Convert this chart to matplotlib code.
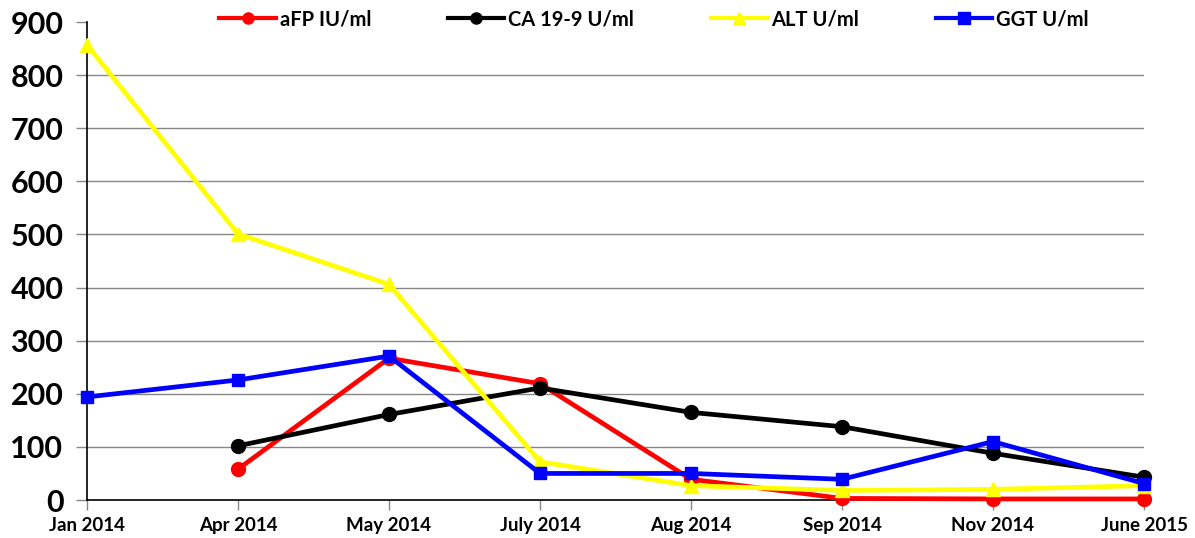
import matplotlib
matplotlib.use("Agg")
import matplotlib.pyplot as plt
import numpy as np

categories = ["Jan 2014", "Apr 2014", "May 2014", "July 2014", "Aug 2014",
              "Sep 2014", "Nov 2014", "June 2015"]
afp = [np.nan, 58, 267, 219, 39, 3, 2, 2]
ca199 = [np.nan, 102, 161, 211, 165, 138, 88, 43]
alt = [857, 501, 406, 72, 27, 18, 20, 27]
ggt = [194, 226, 271, 50, 50, 39, 110, 31]
yticks = [0, 100, 200, 300, 400, 500, 600, 700, 800, 900]

plt.rcParams['font.family'] = ['Lato', 'DejaVu Sans']
plt.rcParams['font.weight'] = 'bold'

fig = plt.figure(figsize=(11.95, 5.38), dpi=100)
ax = fig.add_axes([87/1195, 1-500/538, (1144-87)/1195, (500-22)/538])

x = np.arange(len(categories))
for yv in yticks[1:-1]:
    ax.axhline(yv, color='#868686', lw=1, zorder=0)

ax.plot(x, afp, color='#ff0000', lw=3.4, marker='o', ms=10, label='aFP IU/ml', clip_on=False, zorder=3)
ax.plot(x, ca199, color='#000000', lw=3.4, marker='o', ms=10, label='CA 19-9 U/ml', clip_on=False, zorder=3)
ax.plot(x, alt, color='#ffff00', lw=3.4, marker='^', ms=10, label='ALT U/ml', clip_on=False, zorder=3)
ax.plot(x, ggt, color='#0000ff', lw=3.4, marker='s', ms=9, label='GGT U/ml', clip_on=False, zorder=3)

ax.set_xlim(0, len(categories)-1)
ax.set_ylim(0, 900)
ax.set_xticks(x)
ax.set_xticklabels(categories, fontsize=13.5, fontweight='bold')
ax.set_yticks(yticks)
ax.set_yticklabels([str(v) for v in yticks], fontsize=22, fontweight='bold')
ax.tick_params(axis='x', direction='out', length=7, width=1, color='#868686', pad=5)
ax.tick_params(axis='y', direction='out', length=8, width=1, color='#868686', pad=9)
for s in ['top', 'right']:
    ax.spines[s].set_visible(False)
ax.spines['left'].set_linewidth(1.2)
ax.spines['bottom'].set_linewidth(1.2)

leg = fig.legend(loc='center', bbox_to_anchor=(654/1195, 1-19/538), ncol=4, frameon=False,
                 handlelength=2.8, handletextpad=0.2, columnspacing=3.8,
                 prop={'weight': 'bold', 'size': 14.5})
for h in leg.legend_handles:
    h.set_markersize(8)
    h.set_linewidth(3)

fig.savefig("out.png", dpi=100)
